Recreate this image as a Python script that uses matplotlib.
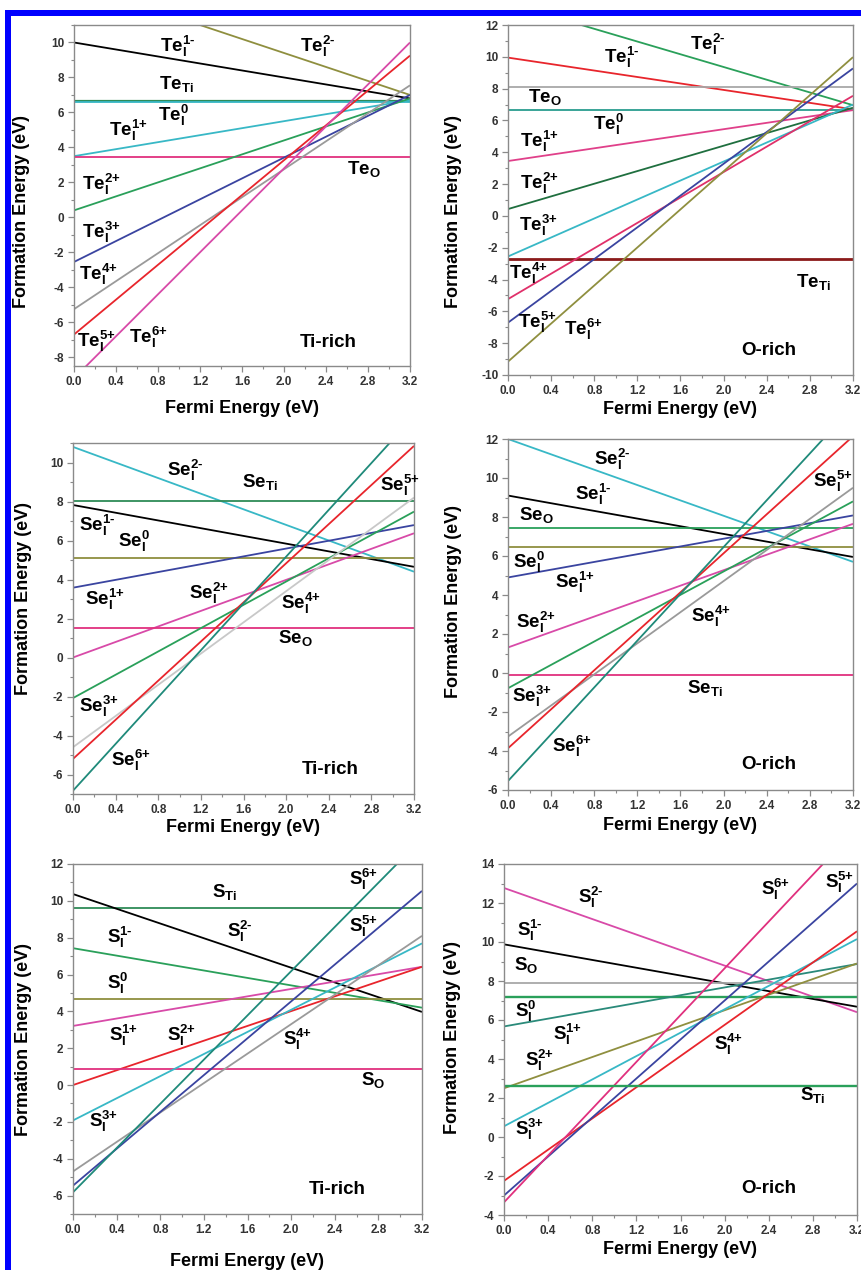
import matplotlib
matplotlib.use("Agg")
import matplotlib.pyplot as plt
from matplotlib.patches import Rectangle
from matplotlib.ticker import MultipleLocator, FormatStrFormatter

plt.rcParams["font.family"] = ["Liberation Sans", "DejaVu Sans"]
plt.rcParams["font.weight"] = "bold"
plt.rcParams["mathtext.fontset"] = "custom"
plt.rcParams["mathtext.rm"] = "Liberation Sans:bold"
plt.rcParams["mathtext.it"] = "Liberation Sans:bold"
plt.rcParams["mathtext.bf"] = "Liberation Sans:bold"
plt.rcParams["axes.unicode_minus"] = False

W, H = 862, 1270
EF = [0.0, 3.2]   # Fermi energy range (eV)

# ---------------- data: formation energy at E_F=0 and E_F=3.2 ----------------
TE_TI_NAMES = ["Te_i^2-", "Te_i^1-", "Te_Ti", "Te_i^0", "Te_i^1+", "Te_O", "Te_i^2+", "Te_i^3+", "Te_i^4+", "Te_i^5+", "Te_i^6+"]
TE_TI_START = [13.4, 10.0, 6.65, 6.6, 3.5, 3.48, 0.4, -2.55, -5.25, -6.7, -9.2]
TE_TI_END = [7.0, 6.8, 6.65, 6.6, 6.7, 3.48, 6.8, 7.0, 7.55, 9.25, 10.0]

TE_O_NAMES = ["Te_i^2-", "Te_i^1-", "Te_O", "Te_i^0", "Te_i^1+", "Te_i^2+", "Te_i^3+", "Te_Ti", "Te_i^4+", "Te_i^5+", "Te_i^6+"]
TE_O_START = [13.36, 9.95, 8.08, 6.65, 3.45, 0.43, -2.55, -2.73, -5.23, -6.71, -9.16]
TE_O_END = [6.96, 6.7, 8.08, 6.65, 6.65, 6.8, 7.0, -2.73, 7.55, 9.27, 9.98]

SE_TI_NAMES = ["Se_i^2-", "Se_Ti", "Se_i^1-", "Se_i^0", "Se_i^1+", "Se_i^2+", "Se_O", "Se_i^3+", "Se_i^4+", "Se_i^5+", "Se_i^6+"]
SE_TI_START = [10.8, 8.03, 7.82, 5.12, 3.58, 0.0, 1.52, -2.08, -4.6, -5.2, -6.83]
SE_TI_END = [4.4, 8.03, 4.65, 5.12, 6.79, 6.37, 1.52, 7.48, 8.2, 10.85, 12.37]

SE_O_NAMES = ["Se_i^2-", "Se_i^1-", "Se_O", "Se_i^0", "Se_i^1+", "Se_i^2+", "Se_Ti", "Se_i^3+", "Se_i^4+", "Se_i^5+", "Se_i^6+"]
SE_O_START = [12.0, 9.1, 7.43, 6.44, 4.9, 1.31, -0.11, -0.78, -3.26, -3.86, -5.54]
SE_O_END = [5.7, 5.95, 7.43, 6.44, 8.08, 7.65, -0.11, 8.8, 9.5, 12.14, 13.66]

S_TI_NAMES = ["S_Ti", "S_i^2-", "S_i^1-", "S_i^0", "S_i^1+", "S_i^2+", "S_O", "S_i^3+", "S_i^4+", "S_i^5+", "S_i^6+"]
S_TI_START = [9.62, 10.37, 7.43, 4.69, 3.21, 0.0, 0.89, -1.92, -4.69, -5.46, -5.82]
S_TI_END = [9.62, 3.97, 4.2, 4.69, 6.42, 6.42, 0.89, 7.69, 8.1, 10.54, 13.38]

S_O_NAMES = ["S_i^2-", "S_i^1-", "S_O", "S_i^0", "S_i^1+", "S_i^2+", "S_i^3+", "S_i^4+", "S_i^5+", "S_i^6+", "S_Ti"]
S_O_START = [12.77, 9.88, 7.88, 7.16, 5.67, 2.5, 0.55, -2.25, -3.0, -3.35, 2.64]
S_O_END = [6.4, 6.68, 7.88, 7.16, 8.87, 8.9, 10.15, 10.55, 13.0, 15.85, 2.64]

# ---------------- styles ----------------
BLK, OLV, DGR, GRN, CYN, PNK, MAG, BLU, GRY, RED, TEAL = (
    "#000000", "#8f8f3f", "#2e8b57", "#2aa05a", "#38b8c6", "#d84aa8", "#e0307e",
    "#3a44a0", "#9a9a9a", "#e8252c", "#1f8a7a")
COLORS = {
    "te_ti": [OLV, BLK, DGR, CYN, CYN, MAG, GRN, BLU, GRY, RED, PNK],
    "te_o": [GRN, RED, "#a8a8a8", "#2a9d8f", "#e0408a", "#1f6f3f", CYN, "#8b1a1a", "#e0306a", BLU, OLV],
    "se_ti": [CYN, DGR, BLK, OLV, BLU, PNK, MAG, GRN, "#c8c8c8", RED, TEAL],
    "se_o": [CYN, BLK, GRN, OLV, BLU, PNK, MAG, GRN, GRY, RED, TEAL],
    "s_ti": [DGR, BLK, GRN, OLV, PNK, RED, MAG, CYN, GRY, BLU, TEAL],
    "s_o": [PNK, BLK, "#a8a8a8", GRN, "#2a8a7a", OLV, CYN, RED, BLU, MAG, GRN],
}
THICK = {("te_o", "Te_Ti"): 2.0, ("te_ti", "Te_Ti"): 1.6, ("s_o", "S_i^0"): 1.7, ("s_o", "S_Ti"): 1.7}


def lab(name):
    el, rest = name.split("_")
    if "^" in rest:
        sup = rest.split("^")[1].replace("-", "\u2010").replace("+", "{+}")
        return el + r"$_{\rm I}^{\rm %s}$" % sup
    return el + r"$_{\rm %s}$" % rest


# label positions (data coords) for each panel
LABELS = {
    "te_ti": [("Te_i^1-", 0.82, 9.48), ("Te_i^2-", 2.15, 9.48), ("Te_Ti", 0.81, 7.33), ("Te_i^0", 0.80, 5.53),
              ("Te_i^1+", 0.33, 4.66), ("Te_O", 2.6, 2.46), ("Te_i^2+", 0.08, 1.56), ("Te_i^3+", 0.08, -1.2),
              ("Te_i^4+", 0.05, -3.59), ("Te_i^5+", 0.03, -7.4), ("Te_i^6+", 0.52, -7.2)],
    "te_o": [("Te_i^2-", 1.69, 10.42), ("Te_i^1-", 0.89, 9.59), ("Te_O", 0.19, 7.18), ("Te_i^0", 0.79, 5.4),
             ("Te_i^1+", 0.11, 4.35), ("Te_i^2+", 0.11, 1.67), ("Te_i^3+", 0.10, -0.95), ("Te_i^4+", 0.01, -3.99),
             ("Te_Ti", 2.67, -4.45), ("Te_i^5+", 0.09, -7.07), ("Te_i^6+", 0.52, -7.49)],
    "se_ti": [("Se_i^2-", 0.88, 9.31), ("Se_Ti", 1.59, 8.73), ("Se_i^5+", 2.88, 8.56), ("Se_i^1-", 0.06, 6.48),
              ("Se_i^0", 0.42, 5.68), ("Se_i^1+", 0.11, 2.68), ("Se_i^2+", 1.09, 2.99), ("Se_i^4+", 1.95, 2.51),
              ("Se_O", 1.92, 0.76), ("Se_i^3+", 0.06, -2.8), ("Se_i^6+", 0.36, -5.54)],
    "se_o": [("Se_i^2-", 0.80, 10.68), ("Se_i^1-", 0.62, 8.88), ("Se_O", 0.10, 7.86), ("Se_i^5+", 2.83, 9.53),
             ("Se_i^0", 0.05, 5.37), ("Se_i^1+", 0.44, 4.35), ("Se_i^2+", 0.07, 2.3), ("Se_i^4+", 1.70, 2.64),
             ("Se_Ti", 1.66, -1.04), ("Se_i^3+", 0.04, -1.47), ("Se_i^6+", 0.41, -4.03)],
    "s_ti": [("S_Ti", 1.27, 10.19), ("S_i^6+", 2.53, 10.86), ("S_i^5+", 2.53, 8.32), ("S_i^2-", 1.41, 8.01),
             ("S_i^1-", 0.31, 7.69), ("S_i^0", 0.31, 5.24), ("S_i^1+", 0.33, 2.37), ("S_i^2+", 0.86, 2.37),
             ("S_i^4+", 1.93, 2.16), ("S_O", 2.64, -0.02), ("S_i^3+", 0.15, -2.28)],
    "s_o": [("S_i^2-", 0.67, 12.0), ("S_i^6+", 2.33, 12.43), ("S_i^5+", 2.91, 12.77), ("S_i^1-", 0.12, 10.32),
            ("S_O", 0.09, 8.58), ("S_i^0", 0.10, 6.15), ("S_i^1+", 0.44, 4.98), ("S_i^2+", 0.19, 3.62),
            ("S_i^4+", 1.90, 4.47), ("S_Ti", 2.68, 1.9), ("S_i^3+", 0.10, 0.11)],
}

# key, names, start, end, condition, (left, top, right, bottom) px, ylim, ytick range, cond pos,
# xlabel y px, ylabel (x, y) px
PANELS = [
    ("te_ti", TE_TI_NAMES, TE_TI_START, TE_TI_END, "Ti-rich", (74, 25, 410, 366), (-8.5, 11), (-8, 10), (2.15, -7.4), 408, (22, 212)),
    ("te_o", TE_O_NAMES, TE_O_START, TE_O_END, "O-rich", (508, 25, 853, 375), (-10, 12), (-10, 12), (2.16, -8.75), 409, (454, 211)),
    ("se_ti", SE_TI_NAMES, SE_TI_START, SE_TI_END, "Ti-rich", (73, 443, 414, 794), (-7, 11), (-6, 10), (2.15, -5.97), 827, (24, 599)),
    ("se_o", SE_O_NAMES, SE_O_START, SE_O_END, "O-rich", (508, 439, 853, 790), (-6, 12), (-6, 12), (2.16, -4.94), 825, (454, 602)),
    ("s_ti", S_TI_NAMES, S_TI_START, S_TI_END, "Ti-rich", (73, 864, 422, 1214), (-7, 12), (-6, 12), (2.16, -5.9), 1262, (24, 1039)),
    ("s_o", S_O_NAMES, S_O_START, S_O_END, "O-rich", (504, 864, 857, 1215), (-4, 14), (-4, 14), (2.15, -2.85), 1249, (453, 1037)),
]

fig = plt.figure(figsize=(W / 100, H / 100), dpi=100)

for key, names, start, end, cond, (l, t, r, b), ylim, yt, cpos, xly, (ylx, yly) in PANELS:
    ax = fig.add_axes([l / W, 1 - b / H, (r - l) / W, (b - t) / H])
    for name, y0, y1, c in zip(names, start, end, COLORS[key]):
        ax.plot(EF, [y0, y1], color=c, lw=THICK.get((key, name), 1.3), solid_capstyle="butt")
    for name, x, y in LABELS[key]:
        ax.text(x, y, lab(name), fontsize=13.5, fontweight="bold", ha="left", va="baseline")
    ax.text(cpos[0], cpos[1], cond, fontsize=13.5, fontweight="bold", ha="left", va="baseline")
    ax.set_xlim(0, 3.2)
    ax.set_ylim(*ylim)
    ax.set_xticks([i * 0.4 for i in range(9)])
    ax.xaxis.set_minor_locator(MultipleLocator(0.2))
    ax.set_yticks(list(range(yt[0], yt[1] + 1, 2)))
    ax.yaxis.set_minor_locator(MultipleLocator(1))
    ax.xaxis.set_major_formatter(FormatStrFormatter("%.1f"))
    for s in ax.spines.values():
        s.set_color("#8a8a8a")
        s.set_linewidth(1.0)
    ax.tick_params(which="major", direction="out", length=4, width=0.9, color="#8a8a8a",
                   labelsize=8.5, labelcolor="#333333", pad=3)
    ax.tick_params(which="minor", direction="out", length=2.5, width=0.8, color="#8a8a8a")
    for tl in ax.get_xticklabels() + ax.get_yticklabels():
        tl.set_fontweight("bold")
    fig.text((l + r) / 2 / W, 1 - xly / H, "Fermi Energy (eV)", fontsize=13, fontweight="bold",
             ha="center", va="center")
    fig.text(ylx / W, 1 - yly / H, "Formation Energy (eV)", fontsize=13, fontweight="bold",
             ha="center", va="center", rotation=90)

# blue frame (top and left edges)
fig.add_artist(Rectangle((5 / W, 1 - 16 / H), 1, 6 / H, transform=fig.transFigure, color="#0000ff", lw=0))
fig.add_artist(Rectangle((5 / W, 0), 6 / W, 1 - 10 / H, transform=fig.transFigure, color="#0000ff", lw=0))

fig.savefig("out.png", dpi=100)
